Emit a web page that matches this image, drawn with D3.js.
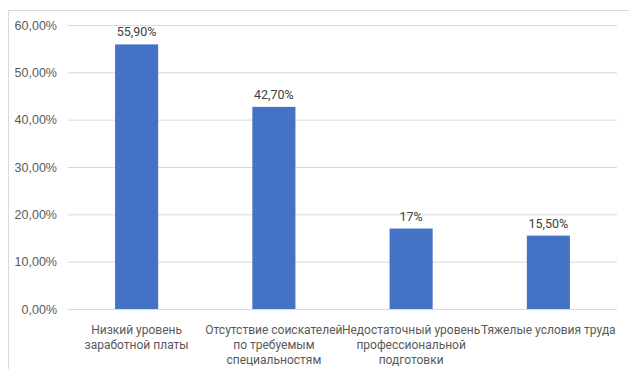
<!DOCTYPE html>
<html>
<head>
<meta charset="utf-8">
<script src="https://cdn.jsdelivr.net/npm/d3@7"></script>
<style>
  html, body { margin: 0; padding: 0; background: #fff; }
  svg { display: block; font-family: Roboto, "Noto Sans", sans-serif; }
</style>
</head>
<body>
<svg id="chart" width="629" height="369"></svg>
<script>
// Причины нехватки кадров, доля ответов
const categories = [
  ["Низкий уровень", "заработной платы"],
  ["Отсутствие соискателей", "по требуемым", "специальностям"],
  ["Недостаточный уровень", "профессиональной", "подготовки"],
  ["Тяжелые условия труда"]
];
const values = [55.9, 42.7, 17, 15.5];
const valueLabels = ["55,90%", "42,70%", "17%", "15,50%"];
const ticks = [0, 10, 20, 30, 40, 50, 60];
const tickLabels = ["0,00%", "10,00%", "20,00%", "30,00%", "40,00%", "50,00%", "60,00%"];

const svg = d3.select("#chart");
const margin = { left: 68, right: 12 };
const W = 629, H = 369;
const fontSize = 12;

// frame edges (top and left)
svg.append("line").attr("x1", 8.5).attr("x2", W).attr("y1", 10.5).attr("y2", 10.5)
  .attr("stroke", "#d9d9d9").attr("stroke-width", 1);
svg.append("line").attr("x1", 8.5).attr("x2", 8.5).attr("y1", 10.5).attr("y2", H)
  .attr("stroke", "#d9d9d9").attr("stroke-width", 1);

const x = d3.scaleBand()
  .domain(d3.range(categories.length))
  .range([margin.left, W - margin.right])
  .paddingInner(0.686).paddingOuter(0.343);

const y = d3.scaleLinear().domain([0, 60]).range([309, 25]);

// horizontal gridlines and value axis labels
const gAxis = svg.append("g").attr("transform", `translate(${margin.left},0)`)
  .call(d3.axisLeft(y).tickValues(ticks)
    .tickFormat((d, i) => tickLabels[i])
    .tickSize(-(W - margin.right - margin.left)).tickPadding(11));
gAxis.select(".domain").remove();
gAxis.selectAll(".tick line").attr("stroke", "#d9d9d9").attr("stroke-width", 1);
gAxis.selectAll(".tick text").attr("fill", "#595959").attr("font-size", 12.5);

// bars
svg.append("g").selectAll("rect").data(values).join("rect")
  .attr("x", (d, i) => x(i))
  .attr("width", x.bandwidth())
  .attr("y", d => y(d))
  .attr("height", d => y(0) - y(d))
  .attr("fill", "#4472c4");

// value labels
svg.append("g").selectAll("text").data(values).join("text")
  .attr("x", (d, i) => x(i) + x.bandwidth() / 2)
  .attr("y", d => y(d) - 8)
  .attr("text-anchor", "middle")
  .attr("fill", "#404040")
  .attr("font-size", 12.5)
  .text((d, i) => valueLabels[i]);

// category labels
const cat = svg.append("g").selectAll("text").data(categories).join("text")
  .attr("text-anchor", "middle")
  .attr("fill", "#595959")
  .attr("font-size", fontSize)
  .attr("x", (d, i) => x(i) + x.bandwidth() / 2)
  .attr("y", 334);
cat.selectAll("tspan").data(d => d).join("tspan")
  .attr("x", function () { return d3.select(this.parentNode).attr("x"); })
  .attr("dy", (d, i) => i === 0 ? 0 : 15)
  .text(d => d);
</script>
</body>
</html>
